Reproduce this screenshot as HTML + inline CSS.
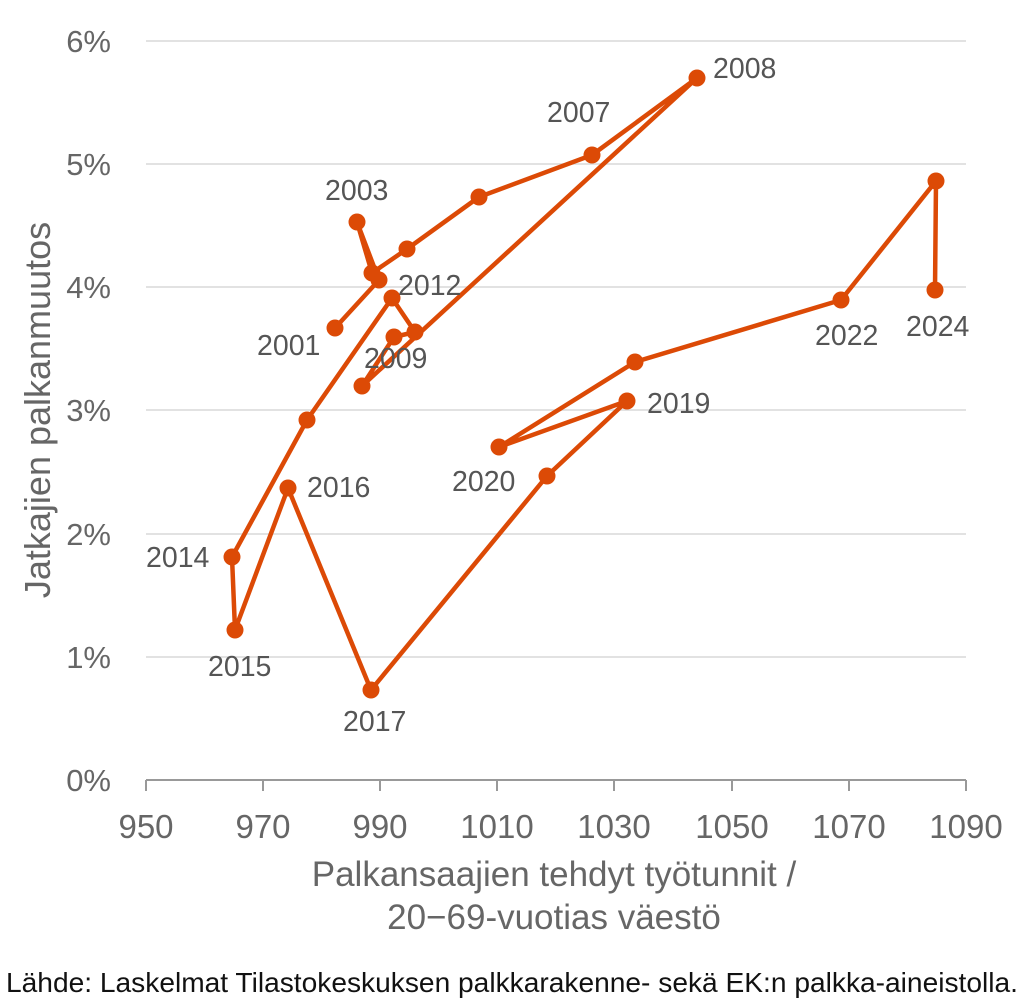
<!DOCTYPE html>
<html><head><meta charset="utf-8"><style>
html,body{margin:0;padding:0;background:#fff;}
svg{display:block;font-family:"Liberation Sans",sans-serif;}
</style></head><body>
<svg width="1024" height="1005" viewBox="0 0 1024 1005" xmlns="http://www.w3.org/2000/svg">
<g stroke="#d9d9d9" stroke-width="1.5">
<line x1="146" y1="41" x2="966" y2="41"/>
<line x1="146" y1="164" x2="966" y2="164"/>
<line x1="146" y1="287" x2="966" y2="287"/>
<line x1="146" y1="410" x2="966" y2="410"/>
<line x1="146" y1="534" x2="966" y2="534"/>
<line x1="146" y1="657" x2="966" y2="657"/>
</g>
<g stroke="#999" stroke-width="2" fill="none">
<line x1="146" y1="780" x2="966" y2="780"/>
<line x1="146" y1="780" x2="146" y2="791"/>
<line x1="263" y1="780" x2="263" y2="791"/>
<line x1="380" y1="780" x2="380" y2="791"/>
<line x1="497" y1="780" x2="497" y2="791"/>
<line x1="614" y1="780" x2="614" y2="791"/>
<line x1="732" y1="780" x2="732" y2="791"/>
<line x1="849" y1="780" x2="849" y2="791"/>
<line x1="966" y1="780" x2="966" y2="791"/>
</g>
<g fill="#666" font-size="31" text-anchor="end">
<text x="111" y="52">6%</text>
<text x="111" y="175">5%</text>
<text x="111" y="298">4%</text>
<text x="111" y="421">3%</text>
<text x="111" y="545">2%</text>
<text x="111" y="668">1%</text>
<text x="111" y="791">0%</text>
</g>
<g fill="#666" font-size="33" text-anchor="middle">
<text x="146" y="838">950</text>
<text x="263" y="838">970</text>
<text x="380" y="838">990</text>
<text x="497" y="838">1010</text>
<text x="614" y="838">1030</text>
<text x="732" y="838">1050</text>
<text x="849" y="838">1070</text>
<text x="966" y="838">1090</text>
</g>
<g fill="#666" font-size="35" text-anchor="middle">
<text x="554" y="886">Palkansaajien tehdyt työtunnit /</text>
<text x="554" y="929">20−69-vuotias väestö</text>
<text transform="translate(50,410) rotate(-90)" font-size="36">Jatkajien palkanmuutos</text>
</g>
<polyline fill="none" stroke="#dc4a06" stroke-width="4.5" stroke-linejoin="round"
points="335,328 379,280 357,222 372,273 407,249 479,197 592,155 697,78 362,386 394,337 415,332 392,298 307,420 232,557 235,630 288,488 371,690 547,476 627,401 499,447 635,362 841,300 936,181 935,290"/>
<g fill="#dc4a06">
<circle cx="335" cy="328" r="8.5"/><circle cx="379" cy="280" r="8.5"/><circle cx="357" cy="222" r="8.5"/><circle cx="372" cy="273" r="8.5"/><circle cx="407" cy="249" r="8.5"/><circle cx="479" cy="197" r="8.5"/><circle cx="592" cy="155" r="8.5"/><circle cx="697" cy="78" r="8.5"/><circle cx="362" cy="386" r="8.5"/><circle cx="394" cy="337" r="8.5"/><circle cx="415" cy="332" r="8.5"/><circle cx="392" cy="298" r="8.5"/><circle cx="307" cy="420" r="8.5"/><circle cx="232" cy="557" r="8.5"/><circle cx="235" cy="630" r="8.5"/><circle cx="288" cy="488" r="8.5"/><circle cx="371" cy="690" r="8.5"/><circle cx="547" cy="476" r="8.5"/><circle cx="627" cy="401" r="8.5"/><circle cx="499" cy="447" r="8.5"/><circle cx="635" cy="362" r="8.5"/><circle cx="841" cy="300" r="8.5"/><circle cx="936" cy="181" r="8.5"/><circle cx="935" cy="290" r="8.5"/>
</g>
<g fill="#555" font-size="28.5">
<text x="713" y="78">2008</text>
<text x="547" y="122">2007</text>
<text x="325" y="200">2003</text>
<text x="398" y="295">2012</text>
<text x="257" y="355">2001</text>
<text x="364" y="368">2009</text>
<text x="647" y="413">2019</text>
<text x="452" y="491">2020</text>
<text x="307" y="497">2016</text>
<text x="146" y="567">2014</text>
<text x="208" y="676">2015</text>
<text x="343" y="731">2017</text>
<text x="815" y="345">2022</text>
<text x="906" y="336">2024</text>
</g>
<text x="6" y="992" fill="#111" font-size="28" textLength="1012" lengthAdjust="spacingAndGlyphs">Lähde: Laskelmat Tilastokeskuksen palkkarakenne- sekä EK:n palkka-aineistolla.</text>
</svg>
</body></html>
